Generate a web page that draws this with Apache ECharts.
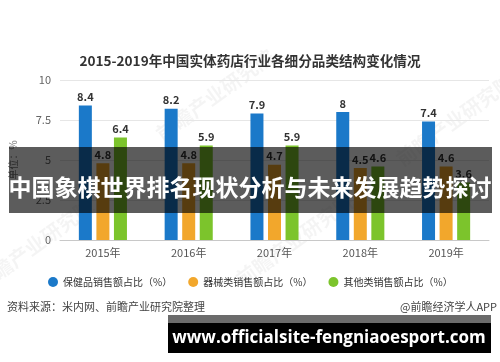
<!DOCTYPE html>
<html><head><meta charset="utf-8">
<style>html,body{margin:0;padding:0;background:#fff}#c{width:500px;height:362px}</style>
<script src="https://cdn.jsdelivr.net/npm/echarts@6/dist/echarts.min.js"></script>
</head><body><div id="c"></div>
<script>
var categories = ['2015年','2016年','2017年','2018年','2019年'];
var seriesNames = ['保健品销售额占比（%）','器械类销售额占比（%）','其他类销售额占比（%）'];
var healthValues = [8.4, 8.2, 7.9, 8, 7.4];
var deviceValues = [4.8, 4.8, 4.7, 4.5, 4.6];
var otherValues = [6.4, 5.9, 5.9, 4.6, 3.6];
var yTicks = [0, 2.5, 5, 7.5, 10];
var colors = ['#1b79c9', '#f2a72c', '#7cc42c'];
var FONT = '"Noto Sans CJK SC", "Noto Sans", sans-serif';

var chart = echarts.init(document.getElementById('c'), null, {renderer:'canvas'});
function bar(name, data, color){
  return {name:name, type:'bar', data:data, barWidth:13, barGap:'35%',
    itemStyle:{color:color},
    label:{show:true, position:'top', distance:3, color:'#333', fontWeight:'bold', fontSize:11, fontFamily:FONT}};
}
function wm(x, y){
  return {type:'text', x:x, y:y, rotation:Math.PI/5, z:0, silent:true,
    style:{text:'前瞻产业研究院', fill:'rgba(0,0,0,0.045)', font:'bold 20px '+FONT, textAlign:'center', textVerticalAlign:'middle'}};
}
chart.setOption({
  animation:false,
  textStyle:{fontFamily:FONT},
  title:{text:'2015-2019年中国实体药店行业各细分品类结构变化情况', left:'center', top:49,
    textStyle:{fontSize:13.6, fontWeight:'bold', color:'#333', fontFamily:FONT}},
  grid:{left:52, right:11, top:80, bottom:122},
  legend:{left:43, top:272, itemWidth:10, itemHeight:10, icon:'circle', itemGap:16,
    textStyle:{fontSize:10, color:'#333', fontFamily:FONT}, data:seriesNames},
  xAxis:{type:'category', data:categories,
    axisLine:{lineStyle:{color:'#c8c8c8'}},
    axisTick:{alignWithLabel:true, length:4, lineStyle:{color:'#c8c8c8'}},
    axisLabel:{color:'#555', fontSize:11, margin:7, fontFamily:FONT}},
  yAxis:{type:'value', min:yTicks[0], max:yTicks[yTicks.length-1], interval:yTicks[1]-yTicks[0],
    name:'单位：%', nameLocation:'middle', nameGap:42, nameTextStyle:{color:'#777', fontSize:10},
    axisLine:{show:false}, axisTick:{show:false},
    axisLabel:{color:'#666', fontSize:11, margin:9},
    splitLine:{lineStyle:{color:'#e6e6e6'}}},
  series:[bar(seriesNames[0], healthValues, colors[0]),
          bar(seriesNames[1], deviceValues, colors[1]),
          bar(seriesNames[2], otherValues, colors[2])],
  graphic:[
    wm(215, 95), wm(455, 120), wm(35, 245), wm(295, 240),
    {type:'text', left:7, top:301, style:{text:'资料来源：米内网、前瞻产业研究院整理', fill:'#444', font:'11px '+FONT}},
    {type:'text', right:3, top:301, style:{text:'@前瞻经济学人APP', fill:'#444', font:'11px '+FONT}},
    {type:'rect', shape:{x:9, y:147, width:483, height:66}, style:{fill:'rgba(0,0,0,0.64)'}, z:100},
    {type:'text', left:'center', top:176, z:101, style:{text:'中国象棋世界排名现状分析与未来发展趋势探讨', fill:'#fff', font:'bold 23px '+FONT, textAlign:'center'}},
    {type:'rect', shape:{x:168, y:315, width:323, height:8}, style:{fill:'#6b6b6b'}, z:100},
    {type:'rect', shape:{x:168, y:323, width:323, height:30}, style:{fill:'#000'}, z:100},
    {type:'text', x:329, y:338, z:101, style:{text:'www.officialsite-fengniaoesport.com', fill:'#fff', font:'bold 17px "Open Sans", sans-serif', textAlign:'center', textVerticalAlign:'middle'}}
  ]
});
</script></body></html>
